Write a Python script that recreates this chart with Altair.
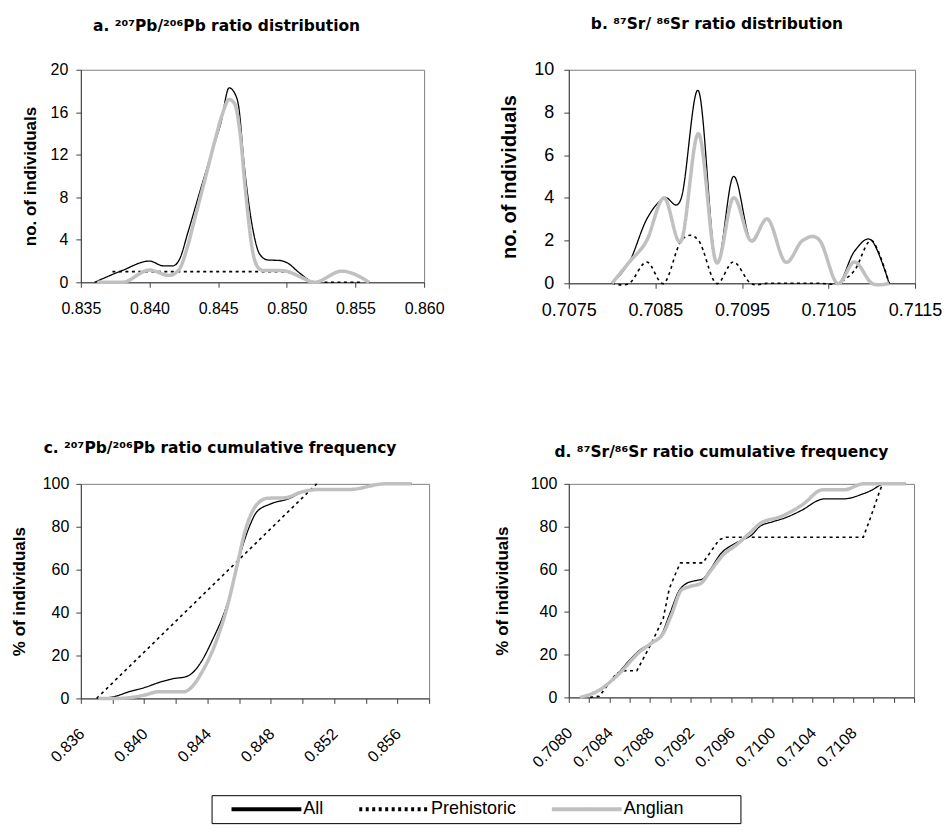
import altair as alt
import pandas as pd

FONT = "Liberation Sans"
TITLE_FONT = "DejaVu Sans"
SERIES = ["All", "Prehistoric", "Anglian"]
SERIES_COLORS = ["#000000", "#000000", "#c0c0c0"]
SERIES_DASH = [[1, 0], [3, 3.5], [1, 0]]
SERIES_WIDTH = [1.3, 1.6, 3.5]

# ---- a. 207Pb/206Pb ratio distribution (no. of individuals) ----
pb_all_x = [0.8360, 0.8380, 0.8400, 0.8410, 0.8417, 0.8422, 0.8428, 0.8438, 0.8447, 0.8452,
            0.8458, 0.8462, 0.8465, 0.8469, 0.8476, 0.8480, 0.8486, 0.8495, 0.8500, 0.8510,
            0.8520, 0.8540, 0.8560]
pb_all_n = [0, 1.1, 2.0, 1.55, 1.55, 2.2, 4.7, 9.1, 12.9, 15.0,
            18.3, 17.8, 16.5, 11.0, 4.5, 2.7, 2.1, 2.05, 1.85, 0.8,
            0, 1.0, 0]
pb_pre_x = [0.8373, 0.8500, 0.8520, 0.8555]
pb_pre_n = [1, 1, 0, 0]
pb_ang_x = [0.8362, 0.8380, 0.8400, 0.8414, 0.8421, 0.8428, 0.8433, 0.8440, 0.8448, 0.8453,
            0.8458, 0.8462, 0.8466, 0.8470, 0.8475, 0.8479, 0.8483, 0.8495, 0.8501, 0.8510,
            0.8520, 0.8540, 0.8560]
pb_ang_n = [0, 0, 1.15, 0.65, 1.1, 3.5, 6.0, 9.5, 13.5, 15.8,
            17.2, 16.8, 14.0, 8.5, 3.0, 1.4, 1.1, 1.1, 1.0, 0.5,
            0, 1.05, 0]

# ---- b. 87Sr/86Sr ratio distribution ----
sr_x = [0.7080, 0.7082, 0.7084, 0.7086, 0.7088, 0.7090, 0.7092, 0.7094, 0.7096,
        0.7098, 0.7100, 0.7102, 0.7104, 0.7106, 0.7108, 0.7110, 0.7112]
sr_all_n = [0, 1, 3, 4, 4, 9, 1, 5, 2, 3, 1, 2, 2, 0, 1.5, 2, 0]
sr_pre_n = [0, 0, 1, 0, 2, 2, 0, 1, 0, 0, 0, 0, 0, 0, 0.6, 2, 0]
sr_ang_n = [0, 1, 2, 4, 2, 7, 1, 4, 2, 3, 1, 2, 2, 0, 1, 0, 0]

# ---- c. 207Pb/206Pb cumulative frequency (%) ----
pbc_all_x = [0.8371, 0.8382, 0.8390, 0.8400, 0.8411, 0.8419, 0.8426, 0.8430, 0.8436, 0.8443,
             0.8450, 0.8455, 0.8462, 0.8467, 0.8471, 0.8480, 0.8491, 0.8500, 0.8510, 0.8530,
             0.8542, 0.8552, 0.8569]
pbc_all_p = [0, 1, 3, 5, 7.8, 9.3, 10, 11.6, 17, 27,
             38.8, 50, 70.5, 81, 86.8, 90.7, 93, 96.1, 97.4, 97.4,
             99, 100, 100]
pbc_pre_x = [0.8370, 0.8509]
pbc_pre_p = [0, 100]
pbc_ang_x = [0.8371, 0.8384, 0.8400, 0.8409, 0.8425, 0.8432, 0.8436, 0.8445, 0.8453, 0.8459,
             0.8464, 0.8471, 0.8478, 0.8489, 0.8499, 0.8510, 0.8530, 0.8552, 0.8569]
pbc_ang_p = [0, 0, 1.5, 3.1, 3.1, 7.0, 11.6, 25.6, 44.2, 63,
             78.6, 90.2, 93.3, 93.5, 96.1, 97.4, 97.4, 100, 100]

# ---- d. 87Sr/86Sr cumulative frequency (%) ----
src_all_x = [0.70811, 0.70830, 0.70847, 0.70860, 0.70870, 0.70881, 0.70891, 0.70899, 0.70909, 0.70916,
             0.70925, 0.70932, 0.70939, 0.70950, 0.70961, 0.70971, 0.70980, 0.70988, 0.71001, 0.71012,
             0.71030, 0.71047, 0.71052, 0.71071, 0.71089, 0.71099, 0.71107, 0.71110, 0.71132]
src_all_p = [0, 3.4, 10.5, 17.5, 22.2, 25.3, 29.2, 38.6, 50.3, 53.4,
             54.7, 55.5, 59.7, 67.5, 71.4, 73.8, 76, 80, 82.3, 83.9,
             87.8, 92.5, 93, 93, 95.2, 97.2, 99.5, 100, 100]
src_pre_x = [0.70821, 0.70830, 0.70847, 0.70855, 0.70867, 0.70881, 0.70893, 0.70899, 0.70907, 0.70910,
             0.70932, 0.70948, 0.70955, 0.71090, 0.71097, 0.71106, 0.71109]
src_pre_p = [0, 0.5, 11.3, 12.5, 12.5, 25, 37, 51, 60, 63,
             63, 73.8, 75, 75, 84, 96.4, 100]
src_ang_x = [0.70811, 0.70830, 0.70850, 0.70870, 0.70881, 0.70893, 0.70901, 0.70911, 0.70919, 0.70930,
             0.70939, 0.70952, 0.70965, 0.70978, 0.70989, 0.71009, 0.71030, 0.71050, 0.71071, 0.71090,
             0.71132]
src_ang_p = [0, 3.4, 11.3, 21.4, 25.3, 30, 38.6, 50.3, 51.9, 53.4,
             58.9, 66.7, 71.4, 76.9, 81.6, 84.7, 90.2, 97.2, 97.2, 100,
             100]

# ---- axis ticks ----
a_xticks = [0.835, 0.840, 0.845, 0.850, 0.855, 0.860]
a_yticks = [0, 4, 8, 12, 16, 20]
b_xticks = [0.7075, 0.7085, 0.7095, 0.7105, 0.7115]
b_yticks = [0, 2, 4, 6, 8, 10]
c_xticks = [0.836, 0.838, 0.840, 0.842, 0.844, 0.846, 0.848, 0.850, 0.852, 0.854, 0.856, 0.858]
d_xticks = [0.7080, 0.7082, 0.7084, 0.7086, 0.7088, 0.7090, 0.7092, 0.7094, 0.7096,
            0.7098, 0.7100, 0.7102, 0.7104, 0.7106, 0.7108, 0.7110, 0.7112, 0.7114]
cum_yticks = [0, 20, 40, 60, 80, 100]


def make_df(parts):
    rows = []
    for s, xs, ys in parts:
        for x, y in zip(xs, ys):
            rows.append({"series": s, "x": x, "y": y})
    return pd.DataFrame(rows)


df_a = make_df([("All", pb_all_x, pb_all_n), ("Prehistoric", pb_pre_x, pb_pre_n), ("Anglian", pb_ang_x, pb_ang_n)])
df_b = make_df([("All", sr_x, sr_all_n), ("Prehistoric", sr_x, sr_pre_n), ("Anglian", sr_x, sr_ang_n)])
df_c = make_df([("All", pbc_all_x, pbc_all_p), ("Prehistoric", pbc_pre_x, pbc_pre_p), ("Anglian", pbc_ang_x, pbc_ang_p)])
df_d = make_df([("All", src_all_x, src_all_p), ("Prehistoric", src_pre_x, src_pre_p), ("Anglian", src_ang_x, src_ang_p)])

color_scale = alt.Scale(domain=SERIES, range=SERIES_COLORS)
dash_scale = alt.Scale(domain=SERIES, range=SERIES_DASH)

# the legend title is an invisible (white) spacer that widens the framed box to the right
LEG = alt.Legend(
    orient="none", legendX=131, legendY=727, direction="horizontal",
    title="MMMM", titleOrient="right", titleFontSize=14, titleFontWeight="normal",
    titleColor="white", titlePadding=5,
    symbolType="stroke", symbolSize=4900, symbolStrokeWidth=4, clipHeight=18,
    symbolOffset=13, labelOffset=0,
    labelFont=FONT, labelFontSize=18, labelColor="black", columnPadding=20,
    strokeColor="black", fillColor="white", padding=5,
)

DOMAIN_COLOR = "#404040"


def panel(df, w, h, title, title_dx, title_offset, title_fs,
          xdom, xticks, xlabel_expr, x_rot, xfs, xpad,
          ydom, yticks, ytitle, ytitle_x, ytfs, yfs, ypad, interp):
    if x_rot:
        xaxis = alt.Axis(values=xticks, labelExpr=xlabel_expr, labelAngle=315, labelAlign="right",
                         labelBaseline="top", labelFontSize=xfs, labelFont=FONT, labelColor="black",
                         labelPadding=xpad, labelOffset=-5, tickSize=5, tickColor=DOMAIN_COLOR,
                         domainColor=DOMAIN_COLOR, title=None, grid=False, labelOverlap=False,
                         labelFlush=False)
    else:
        xaxis = alt.Axis(values=xticks, labelExpr=xlabel_expr, labelFontSize=xfs, labelFont=FONT,
                         labelColor="black", labelPadding=xpad, tickSize=5, tickColor=DOMAIN_COLOR,
                         domainColor=DOMAIN_COLOR, title=None, grid=False, labelOverlap=False,
                         labelFlush=False)
    yaxis = alt.Axis(values=yticks, title=ytitle, titleFont=FONT, titleFontSize=ytfs,
                     titleFontWeight="bold", titleColor="black", titleX=ytitle_x, titleY=h / 2,
                     titleAngle=270, titleBaseline="middle", titleAlign="center",
                     labelFont=FONT, labelFontSize=yfs, labelColor="black", labelPadding=ypad,
                     tickSize=5, tickColor=DOMAIN_COLOR, domainColor=DOMAIN_COLOR, grid=False)
    layers = []
    for s, sw in zip(SERIES, SERIES_WIDTH):
        ip = interp if s != "Prehistoric" or interp == "cardinal" else "linear"
        layers.append(
            alt.Chart(df).transform_filter(alt.datum.series == s)
            .mark_line(interpolate=ip, strokeWidth=sw)
            .encode(
                x=alt.X("x:Q", scale=alt.Scale(domain=xdom, nice=False, zero=False), axis=xaxis),
                y=alt.Y("y:Q", scale=alt.Scale(domain=ydom, nice=False), axis=yaxis),
                color=alt.Color("series:N", scale=color_scale, legend=LEG),
                strokeDash=alt.StrokeDash("series:N", scale=dash_scale, legend=LEG),
                order=alt.Order("x:Q"),
            )
        )
    return alt.layer(*layers).properties(
        width=w, height=h,
        title=alt.TitleParams(title, anchor="middle", dx=title_dx, offset=title_offset,
                              frame="group", baseline="alphabetic", font=TITLE_FONT, fontSize=title_fs,
                              fontWeight="bold", color="black"),
    )


pa = panel(df_a, 344, 213, "a. \u00b2\u2070\u2077Pb/\u00b2\u2070\u2076Pb ratio distribution", -26, 15, 15.5,
           [0.835, 0.860], a_xticks, "format(datum.value, '.3f')", False, 16, 13,
           [0, 20], a_yticks, "no. of individuals", -50, 17, 16, 8, "monotone")
pb = panel(df_b, 347, 214, "b. \u2078\u2077Sr/ \u2078\u2076Sr ratio distribution", -25, 16, 15.5,
           [0.7075, 0.7115], b_xticks, "format(datum.value, '.4f')", False, 18, 13,
           [0, 10], b_yticks, "no. of individuals", -59, 20, 18, 10, "cardinal")
pc = panel(df_c, 349, 215, "c. \u00b2\u2070\u2077Pb/\u00b2\u2070\u2076Pb ratio cumulative frequency", -35, 7, 15.5,
           [0.836, 0.858], c_xticks,
           "round((datum.value - 0.836) / 0.002) % 2 == 0 ? format(datum.value, '.3f') : ''",
           True, 16, 22, [0, 100], cum_yticks, "% of individuals", -61, 17, 16, 7, "monotone")
pd_ = panel(df_d, 346, 214, "d. \u2078\u2077Sr/\u2078\u2076Sr ratio cumulative frequency", -20, 3, 15.5,
            [0.7080, 0.7114], d_xticks,
            "(round((datum.value - 0.708) / 0.0002) % 2 == 0 && datum.value < 0.7111) ? format(datum.value, '.4f') : ''",
            True, 16, 22, [0, 100], cum_yticks, "% of individuals", -66, 17, 16, 7, "monotone")

chart = alt.concat(
    pa, pb, pc, pd_, columns=2, spacing={"row": 201, "column": 140}, bounds="flush"
).properties(
    padding={"left": 2, "top": 8, "right": 0, "bottom": 0},
    background="white",
).configure_view(
    stroke="#808080", strokeWidth=1
)

chart.save("out.html", embed_options={"renderer": "svg", "actions": False})
